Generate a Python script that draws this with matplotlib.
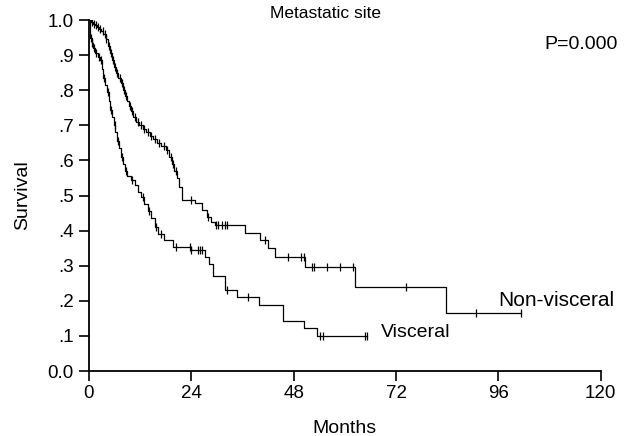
"""Kaplan-Meier survival by metastatic site (visceral vs non-visceral)."""
import numpy as np
import matplotlib
matplotlib.use("Agg")
import matplotlib.pyplot as plt

plt.rcParams["font.family"] = ["Liberation Sans", "DejaVu Sans"]

# non-visceral: event times (months) and survival after each step
nv_t = [0, 0.4, 0.9, 1.4, 1.9, 2.4, 2.9, 3.4, 3.9, 4.4, 4.9, 5.4, 5.9, 6.4, 6.9,
        7.4, 7.9, 8.4, 8.9, 9.4, 9.9, 10.4, 11.0, 11.8, 12.6, 13.4, 14.2, 15.0,
        16.0, 17.0, 18.0, 18.8, 19.4, 20.0, 20.6, 21.2, 21.7, 24.8, 26.4, 27.6,
        28.7, 29.5, 36.6, 40.1, 42.0, 43.6, 50.6, 62.3, 83.8]
nv_s = [1.0, 0.995, 0.99, 0.985, 0.98, 0.975, 0.97, 0.96, 0.945, 0.925, 0.905,
        0.885, 0.865, 0.85, 0.835, 0.82, 0.80, 0.785, 0.77, 0.755, 0.74, 0.725,
        0.71, 0.70, 0.69, 0.68, 0.67, 0.66, 0.65, 0.64, 0.63, 0.61, 0.59, 0.57,
        0.55, 0.525, 0.487, 0.478, 0.459, 0.44, 0.425, 0.416, 0.394, 0.373,
        0.35, 0.326, 0.297, 0.24, 0.166]
nv_c = [0.3, 0.7, 1.2, 1.7, 2.2, 2.7, 3.2, 3.7, 4.1, 4.7, 5.2, 5.6, 6.1, 6.6,
        7.2, 7.7, 8.2, 8.7, 9.6, 10.2, 10.8, 11.4, 12.3, 13.0, 13.8, 14.6, 15.5,
        16.5, 17.5, 18.4, 19.2, 19.8, 20.3, 24.0, 28.0, 29.9, 30.3, 31.1, 31.9,
        32.3, 41.2, 46.7, 49.8, 50.4, 52.3, 52.8, 55.7, 58.8, 61.9, 74.4, 90.8,
        101.4]

# visceral
v_t = [0, 0.2, 0.6, 1.0, 1.4, 2.0, 2.6, 3.0, 3.4, 3.8, 4.2, 4.6, 5.0, 5.4, 5.8,
       6.2, 6.6, 7.0, 7.5, 8.0, 8.5, 9.0, 9.8, 10.8, 11.5, 12.2, 13.0, 13.8,
       14.6, 15.4, 16.2, 17.5, 19.8, 23.9, 27.2, 28.2, 29.0, 31.9, 34.6, 39.9,
       45.5, 50.4, 53.4]
v_s = [1.0, 0.95, 0.935, 0.92, 0.905, 0.895, 0.885, 0.86, 0.835, 0.815, 0.795,
       0.77, 0.745, 0.725, 0.70, 0.68, 0.655, 0.635, 0.61, 0.59, 0.57, 0.555,
       0.545, 0.53, 0.51, 0.495, 0.475, 0.455, 0.435, 0.41, 0.39, 0.373, 0.354,
       0.345, 0.326, 0.305, 0.27, 0.23, 0.212, 0.188, 0.143, 0.122, 0.10]
v_c = [0.4, 0.8, 1.2, 1.7, 2.3, 2.8, 3.6, 4.4, 5.2, 6.0, 6.8, 7.8, 8.8, 10.2,
       12.6, 14.0, 15.8, 17.0, 20.5, 23.7, 24.0, 25.6, 26.0, 26.5, 32.3, 37.2,
       54.1, 54.9, 64.7, 65.1]

xticks = [0, 24, 48, 72, 96, 120]
yticks = [0.0, 0.1, 0.2, 0.3, 0.4, 0.5, 0.6, 0.7, 0.8, 0.9, 1.0]
ylabels = ["0.0", ".1", ".2", ".3", ".4", ".5", ".6", ".7", ".8", ".9", "1.0"]

fig = plt.figure(figsize=(6.31, 4.36), dpi=100)
ax = fig.add_axes([0.141, 0.149, 0.811, 0.805])


def km(ax, t, s, c):
    t = np.asarray(t, float); s = np.asarray(s, float); c = np.asarray(c, float)
    tt = np.append(t, c.max()); ss = np.append(s, s[-1])
    ax.step(tt, ss, where="post", color="black", lw=0.9)
    cy = s[np.searchsorted(t, c, side="right") - 1]
    ax.plot(c, cy, ls="none", marker="|", ms=6, mew=0.9, color="black")


km(ax, nv_t, nv_s, nv_c)
km(ax, v_t, v_s, v_c)

ax.set_xlim(0, 120); ax.set_ylim(0, 1.0)
ax.set_xticks(xticks)
ax.set_yticks(yticks); ax.set_yticklabels(ylabels)
ax.tick_params(direction="out", length=7, width=1.2, labelsize=13.5)
ax.tick_params(axis="y", pad=4)
ax.tick_params(axis="x", pad=3)
for sp in ["top", "right"]:
    ax.spines[sp].set_visible(False)
for sp in ["left", "bottom"]:
    ax.spines[sp].set_linewidth(1.3)

ax.set_xlabel("Months", fontsize=14, labelpad=13)
ax.set_ylabel("Survival", fontsize=14, labelpad=12)

fig.text(326 / 631, 1 - 14 / 436, "Metastatic site", fontsize=12.5,
         ha="center", va="center")
fig.text(618 / 631, 1 - 44 / 436, "P=0.000", fontsize=14,
         ha="right", va="center")
ax.text(96.0, 0.175, "Non-visceral", fontsize=15, ha="left", va="bottom")
ax.text(68.5, 0.11, "Visceral", fontsize=14, ha="left", va="center")

fig.savefig("out.png", dpi=100)
